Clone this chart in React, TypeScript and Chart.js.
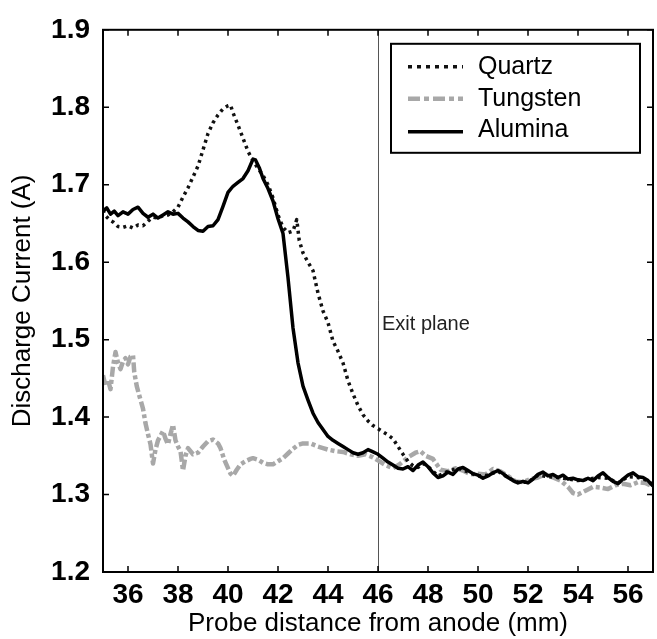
import React, { useEffect, useRef } from "react";
import { Chart, registerables } from "chart.js";
Chart.register(...registerables);

// ---- Data ----
const quartzX = [35.0, 35.1, 35.25, 35.4, 35.6, 35.8, 36.0, 36.2, 36.4, 36.6, 36.8, 37.0, 37.2, 37.4, 37.6, 37.8, 38.0, 38.2, 38.4, 38.6, 38.8, 39.0, 39.2, 39.4, 39.6, 39.8, 40.0, 40.1, 40.2, 40.4, 40.6, 40.8, 41.0, 41.2, 41.4, 41.6, 41.8, 42.0, 42.2, 42.4, 42.6, 42.75, 42.85, 43.0, 43.2, 43.4, 43.6, 43.8, 44.0, 44.2, 44.4, 44.6, 44.8, 45.0, 45.2, 45.4, 45.6, 45.8, 46.0, 46.2, 46.4, 46.6, 46.8, 47.0, 47.2, 47.4, 47.6, 47.8, 48.0, 48.4, 48.8, 49.2, 49.6, 50.0, 50.4, 50.8, 51.2, 51.6, 52.0, 52.4, 52.8, 53.2, 53.6, 54.0, 54.4, 54.8, 55.2, 55.6, 56.0, 56.4, 56.8, 57.0];
const quartzY = [1.667, 1.660, 1.655, 1.652, 1.646, 1.645, 1.647, 1.644, 1.648, 1.647, 1.653, 1.658, 1.657, 1.660, 1.661, 1.665, 1.671, 1.684, 1.696, 1.710, 1.724, 1.745, 1.766, 1.780, 1.790, 1.798, 1.802, 1.803, 1.793, 1.777, 1.760, 1.743, 1.731, 1.721, 1.712, 1.700, 1.683, 1.661, 1.645, 1.638, 1.640, 1.655, 1.628, 1.612, 1.600, 1.589, 1.560, 1.537, 1.522, 1.498, 1.485, 1.470, 1.447, 1.430, 1.415, 1.403, 1.395, 1.389, 1.385, 1.381, 1.377, 1.372, 1.362, 1.352, 1.343, 1.337, 1.335, 1.340, 1.336, 1.324, 1.330, 1.334, 1.329, 1.324, 1.325, 1.330, 1.322, 1.316, 1.316, 1.325, 1.323, 1.322, 1.320, 1.318, 1.320, 1.322, 1.321, 1.315, 1.323, 1.322, 1.318, 1.312];

const tungstenX = [35.0, 35.1, 35.2, 35.3, 35.4, 35.5, 35.6, 35.7, 35.8, 35.9, 36.0, 36.1, 36.2, 36.25, 36.35, 36.45, 36.6, 36.7, 36.8, 36.9, 37.0, 37.1, 37.2, 37.3, 37.4, 37.5, 37.6, 37.7, 37.8, 37.9, 38.0, 38.1, 38.2, 38.3, 38.4, 38.6, 38.8, 39.0, 39.2, 39.4, 39.6, 39.7, 39.85, 40.0, 40.1, 40.2, 40.35, 40.5, 40.7, 40.9, 41.0, 41.2, 41.4, 41.6, 41.8, 42.0, 42.2, 42.4, 42.6, 42.8, 43.0, 43.3, 43.6, 43.8, 44.0, 44.3, 44.6, 44.9, 45.2, 45.5, 45.8, 46.0, 46.3, 46.6, 46.9, 47.2, 47.5, 47.7, 47.9, 48.2, 48.5, 48.8, 49.1, 49.4, 49.7, 50.0, 50.3, 50.6, 50.9, 51.2, 51.5, 51.8, 52.1, 52.4, 52.7, 53.0, 53.3, 53.6, 53.8, 54.0, 54.3, 54.6, 54.9, 55.2, 55.5, 55.8, 56.1, 56.4, 56.7, 57.0];
const tungstenY = [1.454, 1.440, 1.448, 1.436, 1.465, 1.484, 1.470, 1.462, 1.472, 1.476, 1.468, 1.478, 1.480, 1.458, 1.440, 1.428, 1.411, 1.392, 1.378, 1.365, 1.340, 1.358, 1.370, 1.376, 1.382, 1.372, 1.365, 1.378, 1.390, 1.370, 1.362, 1.356, 1.331, 1.350, 1.360, 1.352, 1.354, 1.362, 1.369, 1.371, 1.366, 1.360, 1.345, 1.334, 1.327, 1.324, 1.332, 1.339, 1.343, 1.346, 1.347, 1.345, 1.341, 1.339, 1.339, 1.343, 1.347, 1.353, 1.359, 1.364, 1.366, 1.366, 1.362, 1.360, 1.358, 1.356, 1.355, 1.352, 1.350, 1.352, 1.348, 1.344, 1.338, 1.334, 1.340, 1.348, 1.354, 1.356, 1.350, 1.346, 1.332, 1.330, 1.334, 1.331, 1.326, 1.327, 1.326, 1.333, 1.330, 1.324, 1.317, 1.316, 1.320, 1.322, 1.326, 1.322, 1.318, 1.310, 1.302, 1.300, 1.305, 1.310, 1.309, 1.307, 1.312, 1.314, 1.312, 1.316, 1.315, 1.310];

const aluminaX = [35.0, 35.15, 35.3, 35.45, 35.6, 35.8, 36.0, 36.2, 36.4, 36.6, 36.8, 37.0, 37.2, 37.4, 37.6, 37.8, 38.0, 38.2, 38.4, 38.6, 38.8, 39.0, 39.2, 39.4, 39.6, 39.8, 40.0, 40.2, 40.4, 40.6, 40.8, 41.0, 41.1, 41.25, 41.4, 41.6, 41.8, 42.0, 42.2, 42.4, 42.6, 42.8, 43.0, 43.2, 43.4, 43.6, 43.8, 44.0, 44.2, 44.4, 44.6, 44.8, 45.0, 45.2, 45.4, 45.6, 45.8, 46.0, 46.2, 46.4, 46.6, 46.8, 47.0, 47.2, 47.4, 47.6, 47.8, 48.0, 48.2, 48.4, 48.6, 48.8, 49.0, 49.2, 49.4, 49.6, 49.8, 50.0, 50.2, 50.4, 50.6, 50.8, 51.0, 51.2, 51.4, 51.6, 51.8, 52.0, 52.2, 52.4, 52.6, 52.8, 53.0, 53.2, 53.4, 53.6, 53.8, 54.0, 54.2, 54.4, 54.6, 54.8, 55.0, 55.2, 55.4, 55.6, 55.8, 56.0, 56.2, 56.4, 56.6, 56.8, 57.0];
const aluminaY = [1.666, 1.670, 1.662, 1.666, 1.660, 1.665, 1.662, 1.668, 1.671, 1.663, 1.658, 1.662, 1.657, 1.661, 1.665, 1.662, 1.663, 1.657, 1.652, 1.646, 1.641, 1.640, 1.646, 1.647, 1.655, 1.672, 1.690, 1.698, 1.703, 1.708, 1.718, 1.733, 1.732, 1.722, 1.708, 1.695, 1.679, 1.656, 1.637, 1.580, 1.515, 1.470, 1.440, 1.422, 1.405, 1.393, 1.384, 1.375, 1.370, 1.366, 1.362, 1.358, 1.354, 1.352, 1.354, 1.358, 1.355, 1.352, 1.347, 1.342, 1.338, 1.334, 1.333, 1.336, 1.331, 1.338, 1.342, 1.336, 1.328, 1.322, 1.324, 1.329, 1.326, 1.333, 1.335, 1.331, 1.327, 1.325, 1.321, 1.324, 1.328, 1.331, 1.327, 1.322, 1.318, 1.315, 1.317, 1.315, 1.320, 1.326, 1.329, 1.324, 1.326, 1.322, 1.325, 1.320, 1.321, 1.319, 1.318, 1.321, 1.318, 1.324, 1.328, 1.322, 1.317, 1.314, 1.320, 1.325, 1.328, 1.323, 1.322, 1.318, 1.311];

const seriesNames = ["Quartz", "Tungsten", "Alumina"];
const xTickValues = [36, 38, 40, 42, 44, 46, 48, 50, 52, 54, 56];
const yTickValues = [1.2, 1.3, 1.4, 1.5, 1.6, 1.7, 1.8, 1.9];
const xMin = 35;
const xMax = 57;
const yMin = 1.2;
const yMax = 1.9;
const xTitle = "Probe distance from anode (mm)";
const yTitle = "Discharge Current (A)";
const exitPlaneX = 46;
const exitPlaneLabelY = 1.519;
const exitPlaneLabel = "Exit plane";

// ---- Styles ----
const FONT = '"Liberation Sans", Arial, Helvetica, sans-serif';
const styles = [
  { color: "#111111", width: 3.5, dash: [3, 4] },
  { color: "#a8a8a8", width: 4.5, dash: [10, 3, 4, 3] },
  { color: "#000000", width: 3.5, dash: [] as number[] },
];

function toPoints(xs: number[], ys: number[]) {
  return xs.map((x, i) => ({ x, y: ys[i] }));
}

const decorPlugin = {
  id: "decor",
  beforeDatasetsDraw(chart: any) {
    const { ctx, chartArea, scales } = chart;
    const px = Math.round(scales.x.getPixelForValue(exitPlaneX)) + 0.5;
    ctx.save();
    ctx.strokeStyle = "#555";
    ctx.lineWidth = 1;
    ctx.beginPath();
    ctx.moveTo(px, chartArea.top);
    ctx.lineTo(px, chartArea.bottom);
    ctx.stroke();
    ctx.fillStyle = "#222";
    ctx.font = `20px ${FONT}`;
    ctx.textBaseline = "middle";
    ctx.textAlign = "left";
    ctx.fillText(exitPlaneLabel, px + 3.5, scales.y.getPixelForValue(exitPlaneLabelY));
    ctx.restore();
  },
  afterDraw(chart: any) {
    const { ctx, chartArea, scales } = chart;
    const { left, right, top, bottom } = chartArea;
    ctx.save();
    // inward ticks
    ctx.strokeStyle = "#000";
    ctx.lineWidth = 1.5;
    ctx.beginPath();
    for (const v of xTickValues) {
      const p = scales.x.getPixelForValue(v);
      ctx.moveTo(p, bottom);
      ctx.lineTo(p, bottom - 6);
      ctx.moveTo(p, top);
      ctx.lineTo(p, top + 6);
    }
    for (const v of yTickValues) {
      const p = scales.y.getPixelForValue(v);
      ctx.moveTo(left, p);
      ctx.lineTo(left + 6, p);
      ctx.moveTo(right, p);
      ctx.lineTo(right - 6, p);
    }
    ctx.stroke();
    // frame
    ctx.lineWidth = 2;
    ctx.strokeRect(left, top, right - left, bottom - top);

    // legend
    const bx = right - 262;
    const by = top + 14;
    const bw = 249;
    const bh = 109;
    ctx.fillStyle = "#fff";
    ctx.fillRect(bx, by, bw, bh);
    ctx.lineWidth = 2;
    ctx.strokeStyle = "#000";
    ctx.strokeRect(bx, by, bw, bh);
    const rows = [23, 55, 88];
    seriesNames.forEach((name, i) => {
      const s = styles[i];
      const y = by + rows[i];
      ctx.strokeStyle = s.color;
      ctx.lineWidth = s.width;
      ctx.setLineDash(i === 0 ? [4, 5] : i === 1 ? [12, 4, 5, 4] : []);
      ctx.beginPath();
      ctx.moveTo(bx + 17, y);
      ctx.lineTo(bx + 72, y);
      ctx.stroke();
      ctx.setLineDash([]);
      ctx.fillStyle = "#000";
      ctx.font = `25px ${FONT}`;
      ctx.textBaseline = "middle";
      ctx.textAlign = "left";
      ctx.fillText(name, bx + 87, y - (i === 2 ? 2 : 0));
    });
    ctx.restore();
  },
};

export default function App() {
  const ref = useRef<HTMLCanvasElement | null>(null);
  useEffect(() => {
    if (!ref.current) return;
    const seriesX = [quartzX, tungstenX, aluminaX];
    const seriesY = [quartzY, tungstenY, aluminaY];
    const orders = [1, 2, 0];
    const chart = new Chart(ref.current, {
      type: "line",
      data: {
        datasets: seriesNames.map((name, i) => ({
          label: name,
          data: toPoints(seriesX[i], seriesY[i]),
          borderColor: styles[i].color,
          borderWidth: styles[i].width,
          borderDash: styles[i].dash,
          borderJoinStyle: "round",
          borderCapStyle: "butt",
          pointRadius: 0,
          tension: 0,
          fill: false,
          order: orders[i],
        })),
      },
      options: {
        responsive: false,
        animation: false,
        devicePixelRatio: 1,
        layout: { padding: { left: 0, right: 4, top: 24, bottom: 0 } },
        plugins: { legend: { display: false }, tooltip: { enabled: false } },
        scales: {
          x: {
            type: "linear",
            min: xMin,
            max: xMax,
            grid: { display: false, drawTicks: false },
            border: { display: false },
            afterBuildTicks: (s: any) => {
              s.ticks = xTickValues.map((v) => ({ value: v }));
            },
            afterFit: (s: any) => {
              s.height = 67;
            },
            ticks: {
              color: "#000",
              padding: 6,
              maxRotation: 0,
              autoSkip: false,
              font: { family: FONT, size: 28, weight: "bold" },
              callback: (v: any) => String(v),
            },
            title: {
              display: true,
              text: xTitle,
              color: "#000",
              padding: { top: 0, bottom: 0 },
              font: { family: FONT, size: 26 },
            },
          },
          y: {
            type: "linear",
            min: yMin,
            max: yMax,
            grid: { display: false, drawTicks: false },
            border: { display: false },
            afterBuildTicks: (s: any) => {
              s.ticks = yTickValues.map((v) => ({ value: v }));
            },
            afterFit: (s: any) => {
              s.width = 103;
            },
            ticks: {
              color: "#000",
              padding: 13,
              autoSkip: false,
              font: { family: FONT, size: 28, weight: "bold" },
              callback: (v: any) => Number(v).toFixed(1),
            },
            title: {
              display: true,
              text: yTitle,
              color: "#000",
              padding: { top: 7, bottom: 0 },
              font: { family: FONT, size: 26 },
            },
          },
        },
      },
      plugins: [decorPlugin],
    } as any);
    return () => chart.destroy();
  }, []);
  return (
    <div style={{ position: "absolute", left: 0, top: 0, width: 657, height: 639, background: "#fff" }}>
      <canvas ref={ref} width={657} height={639} style={{ width: 657, height: 639, display: "block" }} />
    </div>
  );
}
